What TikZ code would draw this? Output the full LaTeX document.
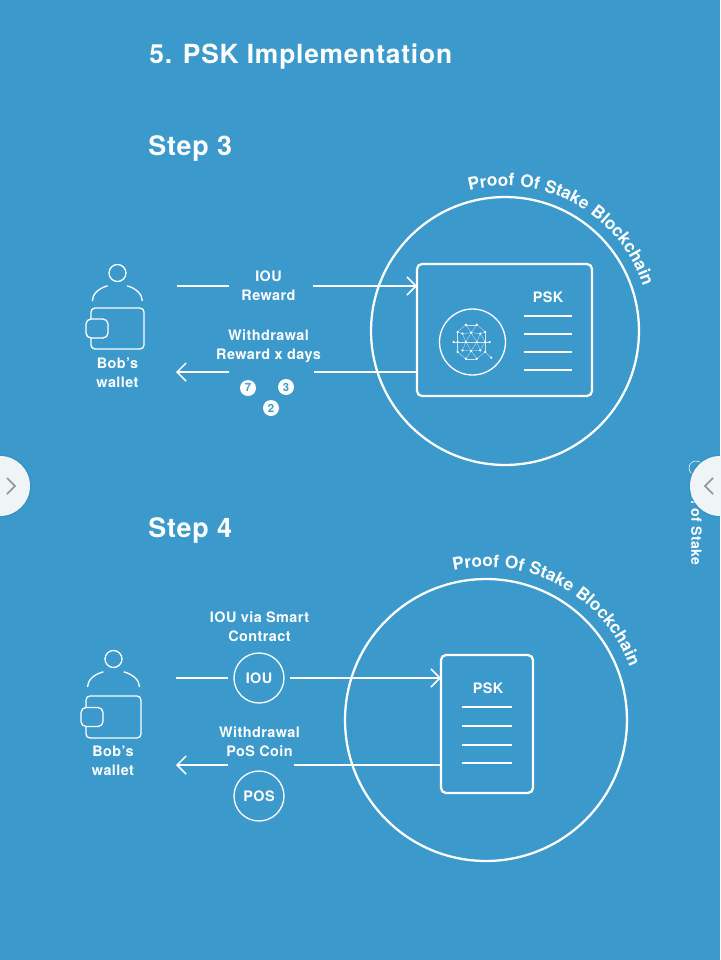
\documentclass[tikz,border=0pt]{standalone}
\usepackage{fontspec}
\setmainfont[LetterSpace=3]{TeX Gyre Heros}
\usepackage{tikz}
\usetikzlibrary{arrows.meta, shapes, decorations.text}

\definecolor{pageblue}{HTML}{3C99CC}
\definecolor{paneshade}{HTML}{3A90C0}
\definecolor{panewhite}{HTML}{EFF4F7}
\definecolor{chevrongray}{HTML}{8B949B}

\tikzset{
  heading/.style={font=\bfseries\fontsize{15.3}{17}\selectfont, text=white, inner sep=0, anchor=west},
  caption/.style={font=\bfseries\fontsize{8.2}{10.8}\selectfont, text=white, align=center, inner sep=0},
  outline/.style={draw=white, line width=0.75pt, inner sep=0, outer sep=0},
  heavy/.style={draw=white, line width=1.3pt, inner sep=0, outer sep=0},
  wire/.style={draw=white, line width=0.85pt},
  coin/.style={circle, fill=white, text=pageblue, inner sep=0, minimum size=0.32cm,
               font=\bfseries\fontsize{6.4}{7}\selectfont},
  token/.style={circle, draw=white, line width=0.75pt, minimum size=1cm, inner sep=0, outer sep=0.13cm,
                font=\bfseries\fontsize{8.2}{10}\selectfont, text=white},
  ringtext/.style={decorate, decoration={text along path, text align={fit to path},
                   text={|\bfseries\fontsize{9.8}{11}\selectfont\color{white}|Proof Of Stake Blockchain}}},
}

\begin{document}
\begin{tikzpicture}[x=0.02cm, y=-0.02cm, >={Straight Barb[length=0.18cm,width=0.36cm]}]
\useasboundingbox (0,0) rectangle (720,960);
\clip (0,0) rectangle (720,960);
\fill[pageblue] (0,0) rectangle (720,960);

\node[heading, font=\bfseries\fontsize{15}{17}\selectfont] (title) at (149,56.5) {5. PSK Implementation};
\node[heading] (step3) at (148,148.5) {Step 3};
\node[heading] (step4) at (148,530.5) {Step 4};

% Step 3: wallet
\node[outline, circle, minimum size=0.34cm] (head3) at (117.5,273) {};
\draw[outline] (92.3,301) arc[start angle=180, end angle=247, x radius=25, y radius=16.5];
\draw[outline] (142.3,301) arc[start angle=360, end angle=293, x radius=25, y radius=16.5];
\node[outline, rectangle, rounded corners=0.08cm, minimum width=1.06cm, minimum height=0.82cm] (wallet3) at (117.5,328.5) {};
\node[outline, rectangle, rounded corners=0.1cm, fill=pageblue, minimum width=0.44cm, minimum height=0.38cm] (flap3) at (97,328.5) {};
\node[caption] (bob3) at (117.5,372.5) {Bob’s\\wallet};

% Step 3: chain with the PSK card
\node[heavy, circle, minimum size=5.36cm] (ring3) at (505,331) {};
\path[ringtext] (505,331) ++(-104.2:145) arc[start angle=-104.2, end angle=-17.8, radius=145];
\node[heavy, rectangle, rounded corners=0.1cm, minimum width=3.5cm, minimum height=2.64cm] (card3) at (504.5,330) {};
\node[caption] (psk3) at (548,297) {PSK};
\draw[wire] (524,316) -- (572,316);
\draw[wire] (524,334) -- (572,334);
\draw[wire] (524,352) -- (572,352);
\draw[wire] (524,370) -- (572,370);

% globe on the card
\node[outline, circle, minimum size=1.32cm] (globe) at (472.5,342) {};
\begin{scope}[shift={(472.5,342)}]
  \foreach \n/\px/\py in {1/-6.7/-17.3, 2/4.3/-17.3, 3/-15/-10, 4/-10/-8.3, 5/-1.3/-9.3, 6/7.7/-8.3, 7/12.7/-10,
                          8/-19/0, 9/-15/0, 10/-6.7/0, 11/4.3/0, 12/12.7/0, 13/17/0,
                          14/-15/10, 15/-10/8.3, 16/-1.3/9, 17/7.7/8.3, 18/12.7/10,
                          19/-6.7/16.7, 20/4.3/16.7, 21/18.7/15.7}
    \coordinate (g\n) at (\px,\py);
  \foreach \a/\b in {1/2, 1/3, 1/5, 2/5, 2/7, 3/4, 4/5, 5/6, 6/7, 3/9, 4/10, 5/10, 5/11, 6/11, 6/12, 7/12,
                     8/9, 9/10, 10/11, 11/12, 12/13, 9/14, 10/15, 10/16, 11/16, 11/17, 12/17, 12/18,
                     15/16, 16/17, 14/19, 16/19, 16/20, 18/20, 19/20, 18/21}
    \draw[white, opacity=0.75, line width=0.18pt] (g\a) -- (g\b);
  \foreach \n in {1,...,21}
    \fill[white] (g\n) circle[radius=1.25];
\end{scope}

% Step 3: flows
\coordinate (iouA3) at (177,286);
\coordinate (iouB3) at (229,286);
\coordinate (iouC3) at (313,286);
\coordinate (wdA3) at (314,372);
\coordinate (wdB3) at (229,372);
\coordinate (wdC3) at (176,372);
\node[caption] (iou3) at (268.5,286) {IOU\\Reward};
\node[caption] (wd3) at (268.5,346.5) {Withdrawal\\Reward x days};
\draw[wire] (iouA3) -- (iouB3);
\draw[wire, ->] (iouC3) -- (iouC3 -| card3.west);
\draw[wire] (wdA3 -| card3.west) -- (wdA3);
\draw[wire, ->] (wdB3) -- (wdC3);
\node[coin] (coinA) at (248,388) {7};
\node[coin] (coinB) at (286,387) {3};
\node[coin] (coinC) at (271,408) {2};

% Step 4: wallet
\node[outline, circle, minimum size=0.34cm] (head4) at (113.5,659) {};
\draw[outline] (87.5,687) arc[start angle=180, end angle=247, x radius=26, y radius=16.5];
\draw[outline] (139.5,687) arc[start angle=360, end angle=293, x radius=26, y radius=16.5];
\node[outline, rectangle, rounded corners=0.08cm, minimum width=1.1cm, minimum height=0.84cm] (wallet4) at (113.5,717) {};
\node[outline, rectangle, rounded corners=0.1cm, fill=pageblue, minimum width=0.44cm, minimum height=0.38cm] (flap4) at (92,717) {};
\node[caption] (bob4) at (113,761) {Bob’s\\wallet};

% Step 4: chain with the PSK card
\node[heavy, circle, minimum size=5.64cm] (ring4) at (486,720) {};
\path[ringtext] (486,720) ++(-102.2:153) arc[start angle=-102.2, end angle=-20, radius=153];
\node[heavy, rectangle, rounded corners=0.1cm, minimum width=1.84cm, minimum height=2.76cm] (card4) at (487,724) {};
\node[caption] (psk4) at (488,688) {PSK};
\draw[wire] (462,707) -- (512,707);
\draw[wire] (462,726) -- (512,726);
\draw[wire] (462,745) -- (512,745);
\draw[wire] (462,763) -- (512,763);

% Step 4: flows
\coordinate (iouA4) at (176,678);
\coordinate (wdA4) at (294,765);
\coordinate (wdB4) at (228,765);
\coordinate (wdC4) at (176,765);
\node[caption] (iouvia) at (259.5,627) {IOU via Smart\\Contract};
\node[token] (iou4) at (259,678) {IOU};
\node[caption] (wd4) at (259.5,741.5) {Withdrawal\\PoS Coin};
\node[token] (pos4) at (259,796) {POS};
\draw[wire] (iouA4) -- (iou4);
\draw[wire, ->] (iou4) -- (iou4 -| card4.west);
\draw[wire] (wdA4 -| card4.west) -- (wdA4);
\draw[wire, ->] (wdB4) -- (wdC4);

% side panes
\node[caption, rotate=-90, anchor=west, font=\bfseries\fontsize{8}{9}\selectfont] (sidetext) at (696.5,491) {ol of Stake};
\node[draw=white, line width=0.3pt, circle, minimum size=0.28cm, inner sep=0] (sidemark) at (696,468) {};
\node[circle, fill=paneshade, minimum size=1.26cm, inner sep=0] (shadeL) at (0,486) {};
\node[circle, fill=paneshade, opacity=0.6, minimum size=1.26cm, inner sep=0] (shadeR) at (720,486) {};
\node[circle, fill=panewhite, minimum size=1.2cm, inner sep=0] (paneL) at (0,486) {};
\node[circle, fill=panewhite, minimum size=1.2cm, inner sep=0] (paneR) at (720,486) {};
\draw[chevrongray, line width=0.9pt] (7,478) -- (15,486) -- (7,494);
\draw[chevrongray, line width=0.9pt] (713,478) -- (705,486) -- (713,494);
\end{tikzpicture}
\end{document}
